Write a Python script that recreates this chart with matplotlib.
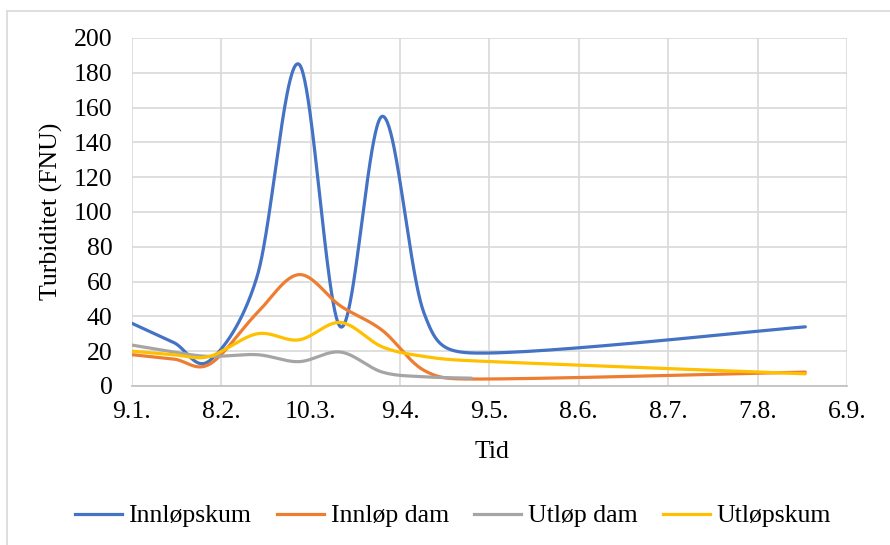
import numpy as np
import matplotlib
matplotlib.use("Agg")
import matplotlib.pyplot as plt
import matplotlib.dates as mdates
from matplotlib.lines import Line2D
import datetime as dt

# ---- data ----
dates_main = ["2019-01-09", "2019-01-23", "2019-02-04", "2019-02-20", "2019-03-06",
              "2019-03-20", "2019-04-03", "2019-04-17", "2019-05-03", "2019-08-23"]
dates_utlop_dam = dates_main[:9]

innlopskum = [36, 25, 14.5, 63, 185, 34, 155, 42, 19, 34]
innlop_dam = [18, 15.5, 12.5, 42, 64, 46, 32, 9, 4, 8]
utlop_dam = [23.5, 19.5, 17, 18, 14, 19.5, 8, 5.3, 4.5]
utlopskum = [20, 18, 17, 30, 26.5, 36.5, 22.5, 17, 14.5, 7]

series_names = ["Innløpskum", "Innløp dam", "Utløp dam", "Utløpskum"]
series_colors = ["#4472C4", "#ED7D31", "#A5A5A5", "#FFC000"]

tick_dates = ["2019-01-09", "2019-02-08", "2019-03-10", "2019-04-09", "2019-05-09",
              "2019-06-08", "2019-07-08", "2019-08-07", "2019-09-06"]
tick_labels = ["9.1.", "8.2.", "10.3.", "9.4.", "9.5.", "8.6.", "8.7.", "7.8.", "6.9."]
y_ticks = list(range(0, 201, 20))


def to_num(ds):
    return mdates.date2num([dt.datetime.strptime(d, "%Y-%m-%d") for d in ds])


def smooth_display(P, n=50):
    """Excel-like smoothed line (Bezier with capped Catmull-Rom arms), in display space."""
    m = len(P)
    out = [P[0]]
    t = np.linspace(0, 1, n)[1:, None]
    for i in range(m - 1):
        p0 = P[i - 1] if i > 0 else P[i]
        p1 = P[i]
        p2 = P[i + 1]
        p3 = P[i + 2] if i + 2 < m else P[i + 1]
        d02 = np.linalg.norm(p2 - p0)
        d12 = np.linalg.norm(p2 - p1)
        d13 = np.linalg.norm(p3 - p1)
        f1 = 1 / 6 if d02 / 6 < d12 / 2 else (d12 / (2 * d02) if d02 > 0 else 0)
        f2 = 1 / 6 if d13 / 6 < d12 / 2 else (d12 / (2 * d13) if d13 > 0 else 0)
        c1 = p1 + (p2 - p0) * f1
        c2 = p2 - (p3 - p1) * f2
        seg = ((1 - t) ** 3) * p1 + 3 * ((1 - t) ** 2) * t * c1 + 3 * (1 - t) * t ** 2 * c2 + t ** 3 * p2
        out.extend(seg)
    return np.array(out)


plt.rcParams['font.family'] = ['Liberation Serif', 'DejaVu Serif']
FS = 18.5

W, H = 890, 545
fig = plt.figure(figsize=(W / 100, H / 100), dpi=100)
ax = fig.add_axes([132 / W, 1 - 386 / H, (847 - 132) / W, (386 - 38) / H])

tnum = to_num(tick_dates)
ax.set_xlim(tnum[0], tnum[-1])
ax.set_ylim(0, 200)

xm = to_num(dates_main)
xu = to_num(dates_utlop_dam)
data = [(xm, innlopskum), (xm, innlop_dam), (xu, utlop_dam), (xm, utlopskum)]
for (xx, yy), name, col in zip(data, series_names, series_colors):
    disp = ax.transData.transform(np.column_stack([xx, yy]).astype(float))
    curve = ax.transData.inverted().transform(smooth_display(disp))
    ax.plot(curve[:, 0], curve[:, 1], color=col, lw=2.3, solid_capstyle='round',
            label=name, zorder=3)

ax.set_xticks(tnum)
ax.set_xticklabels(tick_labels)
ax.set_yticks(y_ticks)
ax.tick_params(axis='both', length=0, labelsize=FS, colors='black')
ax.tick_params(axis='y', pad=14)
ax.tick_params(axis='x', pad=11)
ax.grid(True, color='#D9D9D9', lw=1.2)
ax.set_axisbelow(True)
for s in ['top', 'right', 'left']:
    ax.spines[s].set_visible(False)
ax.spines['bottom'].set_color('#BFBFBF')
ax.spines['bottom'].set_linewidth(1.2)

fig.text(51 / W, 1 - 211 / H, "Turbiditet (FNU)", rotation=90, ha='center', va='center', fontsize=FS)
fig.text(492 / W, 1 - 452 / H, "Tid", ha='center', va='center', fontsize=FS)

handles = [Line2D([], [], color=c, lw=2.3) for c in series_colors]
fig.legend(handles, series_names, loc='center', bbox_to_anchor=(453 / W, 1 - 516 / H),
           ncol=4, frameon=False, fontsize=FS, handlelength=1.83, handletextpad=0.25,
           columnspacing=1.0, borderaxespad=0, borderpad=0)

# chart area border
fig.add_artist(Line2D([7 / W, 1], [1 - 11 / H, 1 - 11 / H], color='#D9D9D9', lw=1.2, transform=fig.transFigure))
fig.add_artist(Line2D([7 / W, 7 / W], [0, 1 - 11 / H], color='#D9D9D9', lw=1.2, transform=fig.transFigure))

fig.savefig("out.png", dpi=100)
